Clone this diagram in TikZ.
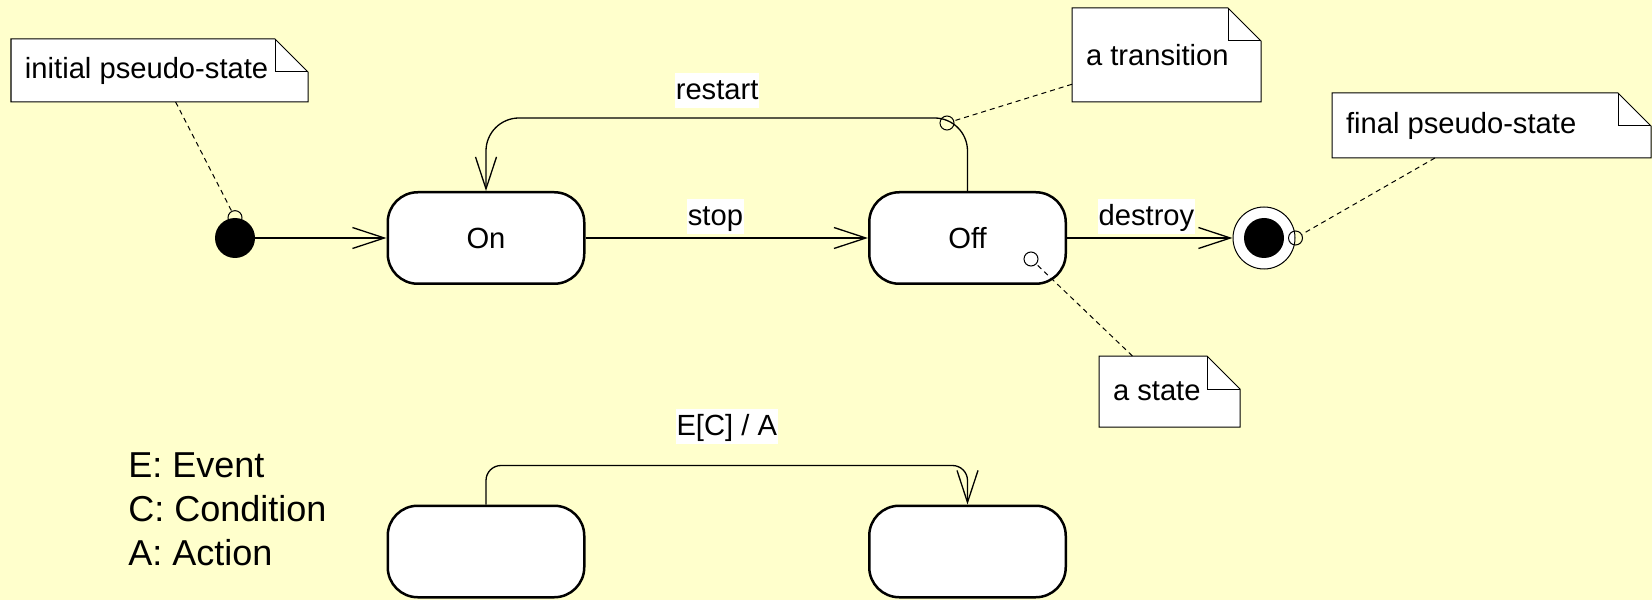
\documentclass[tikz,border=0pt]{standalone}
\usepackage{fontspec}
\setmainfont{Liberation Sans}
\usetikzlibrary{arrows.meta}
\definecolor{paper}{HTML}{FFFFCC}
\newcommand{\foldsz}{0.66cm}
% folded corner of a note
\newcommand{\dogear}[1]{%
  \fill[paper] ([xshift=-\foldsz]#1.north east) -- (#1.north east) -- ([yshift=-\foldsz]#1.north east) -- cycle;
  \draw[line width=0.02cm] (#1.south west) -- (#1.north west) -- ([xshift=-\foldsz]#1.north east)
    -- ([yshift=-\foldsz]#1.north east) -- (#1.south east) -- cycle;
  \draw[line width=0.02cm] ([xshift=-\foldsz]#1.north east) |- ([yshift=-\foldsz]#1.north east);}

\begin{document}
\begin{tikzpicture}[every node/.style={font=\fontsize{16.6}{20}\selectfont},
  st/.style={draw,line width=0.05cm,fill=white,rounded corners=0.6cm,minimum width=3.93cm,minimum height=1.83cm},
  note/.style={fill=white,inner xsep=0.28cm,inner ysep=0pt,outer sep=0pt,align=flush left},
  pin/.style={draw,circle,line width=0.02cm,inner sep=0pt,minimum size=0.28cm},
  tr/.style={line width=0.026cm,-{Straight Barb[length=0.64cm,width=0.42cm]}},
  lbl/.style={fill=white,sharp corners,inner xsep=0.02cm,inner ysep=0.05cm,text height=0.48cm,text depth=0.12cm},
  noteln/.style={line width=0.02cm,dash pattern=on 0.1cm off 0.08cm}]
\useasboundingbox (0,0) rectangle (33.04,12);
\fill[paper] (0,0) rectangle (33.04,12);

% states
\node[fill,circle,inner sep=0pt,minimum size=0.8cm] (init) at (4.70,7.24) {};
\node[st] (on) at (9.72,7.24) {On};
\node[st] (off) at (19.35,7.24) {Off};
\node[circle,draw,fill=white,line width=0.02cm,inner sep=0pt,minimum size=1.24cm,
  path picture={\fill[black] (path picture bounding box.center) circle (0.4cm);}] (final) at (25.28,7.24) {};
\node[st] (src) at (9.72,0.97) {};
\node[st] (dst) at (19.35,0.97) {};

% transitions
\draw[tr] (init) -- (on);
\draw[tr] (on) -- node[lbl,pos=0.46,above=0.06cm] {stop} (off);
\draw[tr] (off) -- node[lbl,pos=0.48,above=0.06cm] {destroy} (final);
\draw[tr,rounded corners=0.66cm] (off.north) -- ++(0,1.46) -| node[lbl,pos=0.26,above=0.18cm] {restart} (on.north);
\draw[tr,rounded corners=0.3cm] (src.north) -- ++(0,0.78) -| node[lbl,pos=0.25,above=0.42cm] {E[C] / A} (dst.north);

% note anchors
\node[pin] (ipin) at (init.north) {};
\node[pin] (tpin) at (18.94,9.54) {};
\node[pin] (spin) at (20.62,6.82) {};
\node[pin] (fpin) at (final.east) {};

% notes
\node[note,text width=5.38cm,minimum height=1.26cm] (inote) at (3.19,10.59) {initial pseudo-state};
\dogear{inote}
\node[note,text width=3.22cm,minimum height=1.88cm] (tnote) at (23.33,10.90) {a transition};
\dogear{tnote}
\node[note,text width=5.82cm,minimum height=1.30cm] (fnote) at (29.83,9.49) {final pseudo-state};
\dogear{fnote}
\node[note,text width=2.26cm,minimum height=1.42cm] (snote) at (23.39,4.17) {a state};
\dogear{snote}
\draw[noteln] (inote) -- (ipin);
\draw[noteln] (tnote) -- (tpin);
\draw[noteln] (fnote) -- (fpin);
\draw[noteln] (snote) -- (spin);

\node[anchor=west,align=left,inner sep=0pt,font=\fontsize{20.5}{25}\selectfont] (legend) at (2.56,1.82)
  {E: Event\\C: Condition\\A: Action};
\end{tikzpicture}
\end{document}
